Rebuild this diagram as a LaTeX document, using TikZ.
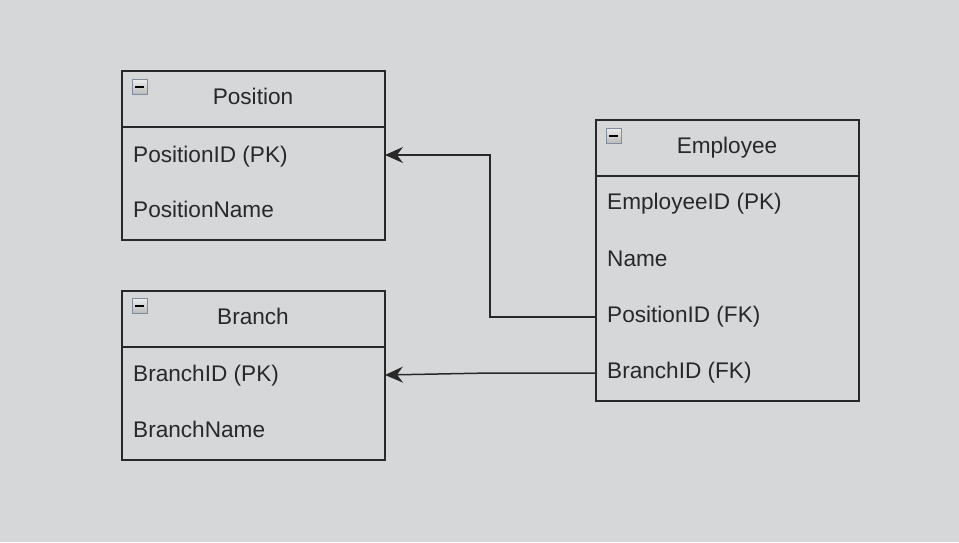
\documentclass[tikz,border=0pt]{standalone}
\usepackage{fontspec}
\setmainfont{Liberation Sans}
\usetikzlibrary{arrows.meta}
\definecolor{bg}{RGB}{214,215,217}
\definecolor{ink}{RGB}{40,40,40}
\definecolor{iconedge}{RGB}{130,140,160}
\tikzset{
  box/.style={draw=ink, line width=1.3pt, fill=bg, rectangle, inner sep=0pt},
  txt/.style={anchor=base west, inner sep=0pt, text=ink, font=\fontsize{22.6}{26}\selectfont},
  ttl/.style={anchor=base, inner sep=0pt, text=ink, font=\fontsize{22.6}{26}\selectfont},
  conn/.style={draw=ink, line width=1.5pt, -{Stealth[length=18pt,width=16pt,inset=6pt]}},
  icon/.style={draw=iconedge, line width=1pt, top color=gray!15, bottom color=gray!55, rectangle, inner sep=0pt, minimum size=15pt},
}
\begin{document}
\begin{tikzpicture}[x=1pt,y=-1pt]
\fill[bg] (0,0) rectangle (959,542);
\useasboundingbox (0,0) rectangle (959,542);
% Position
\node[box, minimum width=263pt, minimum height=169pt] (position) at (253.5,155.5) {};
\draw[ink, line width=1.3pt] (122,127) -- (385,127);
\node[icon] (picon) at (139.5,87) {};
\draw[black, line width=2pt] (135,87) -- (144,87);
\node[ttl] (ptitle) at (253,104) {Position};
\node[txt] (ppk) at (133,162) {PositionID (PK)};
\node[txt] (pname) at (133,217) {PositionName};
% Branch
\node[box, minimum width=263pt, minimum height=169pt] (branch) at (253.5,375.5) {};
\draw[ink, line width=1.3pt] (122,347) -- (385,347);
\node[icon] (bicon) at (139.5,306) {};
\draw[black, line width=2pt] (135,306) -- (144,306);
\node[ttl] (btitle) at (253,324) {Branch};
\node[txt] (bpk) at (133,381) {BranchID (PK)};
\node[txt] (bname) at (133,437) {BranchName};
% Employee
\node[box, minimum width=263pt, minimum height=281pt] (emp) at (727.5,260.5) {};
\draw[ink, line width=1.3pt] (596,176) -- (859,176);
\node[icon] (eicon) at (613.5,136) {};
\draw[black, line width=2pt] (609,136) -- (618,136);
\node[ttl] (etitle) at (727,153) {Employee};
\node[txt] (epk) at (607,209) {EmployeeID (PK)};
\node[txt] (ename) at (607,266) {Name};
\node[txt] (epos) at (607,322) {PositionID (FK)};
\node[txt] (ebr) at (607,378) {BranchID (FK)};
% connectors
\coordinate (eposL) at (596,317);
\coordinate (ppkR) at (385,155);
\coordinate (ebrL) at (596,373);
\coordinate (bpkR) at (385,375);
\coordinate (bend) at (490,373);
\draw[conn] (eposL) -- (490,317) -- (490,155) -- (ppkR);
\draw[conn] (ebrL) -- (bend) -- (bpkR);
\end{tikzpicture}
\end{document}
